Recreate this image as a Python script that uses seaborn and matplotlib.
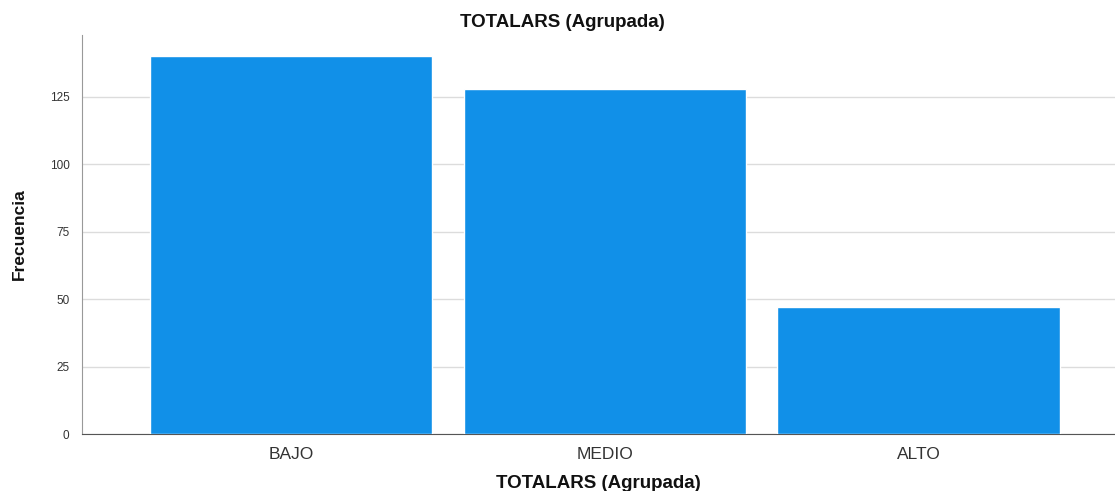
import matplotlib
matplotlib.use("Agg")
import matplotlib.pyplot as plt
import pandas as pd
import seaborn as sns

# frequencies per group
categorias = ["BAJO", "MEDIO", "ALTO"]
frecuencias = [140, 128, 47]
ticks_y = [0, 25, 50, 75, 100, 125]

df = pd.DataFrame({"grupo": categorias, "frecuencia": frecuencias})

sns.set_style("white")
plt.rcParams['font.family'] = ['Liberation Sans', 'DejaVu Sans']

fig = plt.figure(figsize=(11.15, 4.91), dpi=100)
ax = fig.add_axes([0.0735, 0.116, 0.9265, 0.813])

sns.barplot(data=df, x="grupo", y="frecuencia", color="#1190e8", saturation=1,
            width=0.9, ax=ax, zorder=3)

ax.set_ylim(0, 148)
ax.set_xlim(-0.666, 2.626)
ax.set_yticks(ticks_y)
ax.yaxis.grid(True, color="#dcdcdc", linewidth=1, zorder=0)
ax.set_axisbelow(True)

for s in ["top", "right"]:
    ax.spines[s].set_visible(False)
ax.spines["left"].set_color("#999999")
ax.spines["bottom"].set_color("#555555")

ax.tick_params(axis="y", length=0, labelsize=8.5, pad=9, labelcolor="#333333")
ax.tick_params(axis="x", length=0, labelsize=12.5, pad=9, labelcolor="#333333")

# title sits on the figure centre, not the axes centre
fig.text(0.504, 0.945, "TOTALARS (Agrupada)", ha="center", va="baseline",
         fontsize=13.5, fontweight="bold", color="#111111")
ax.set_xlabel("TOTALARS (Agrupada)", fontsize=13.5, fontweight="bold",
              labelpad=10, color="#111111")
ax.set_ylabel("Frecuencia", fontsize=12.5, fontweight="bold", labelpad=16,
              color="#111111",
              family=['Liberation Sans Narrow', 'Liberation Sans', 'DejaVu Sans'])

fig.savefig("out.png", dpi=100)
